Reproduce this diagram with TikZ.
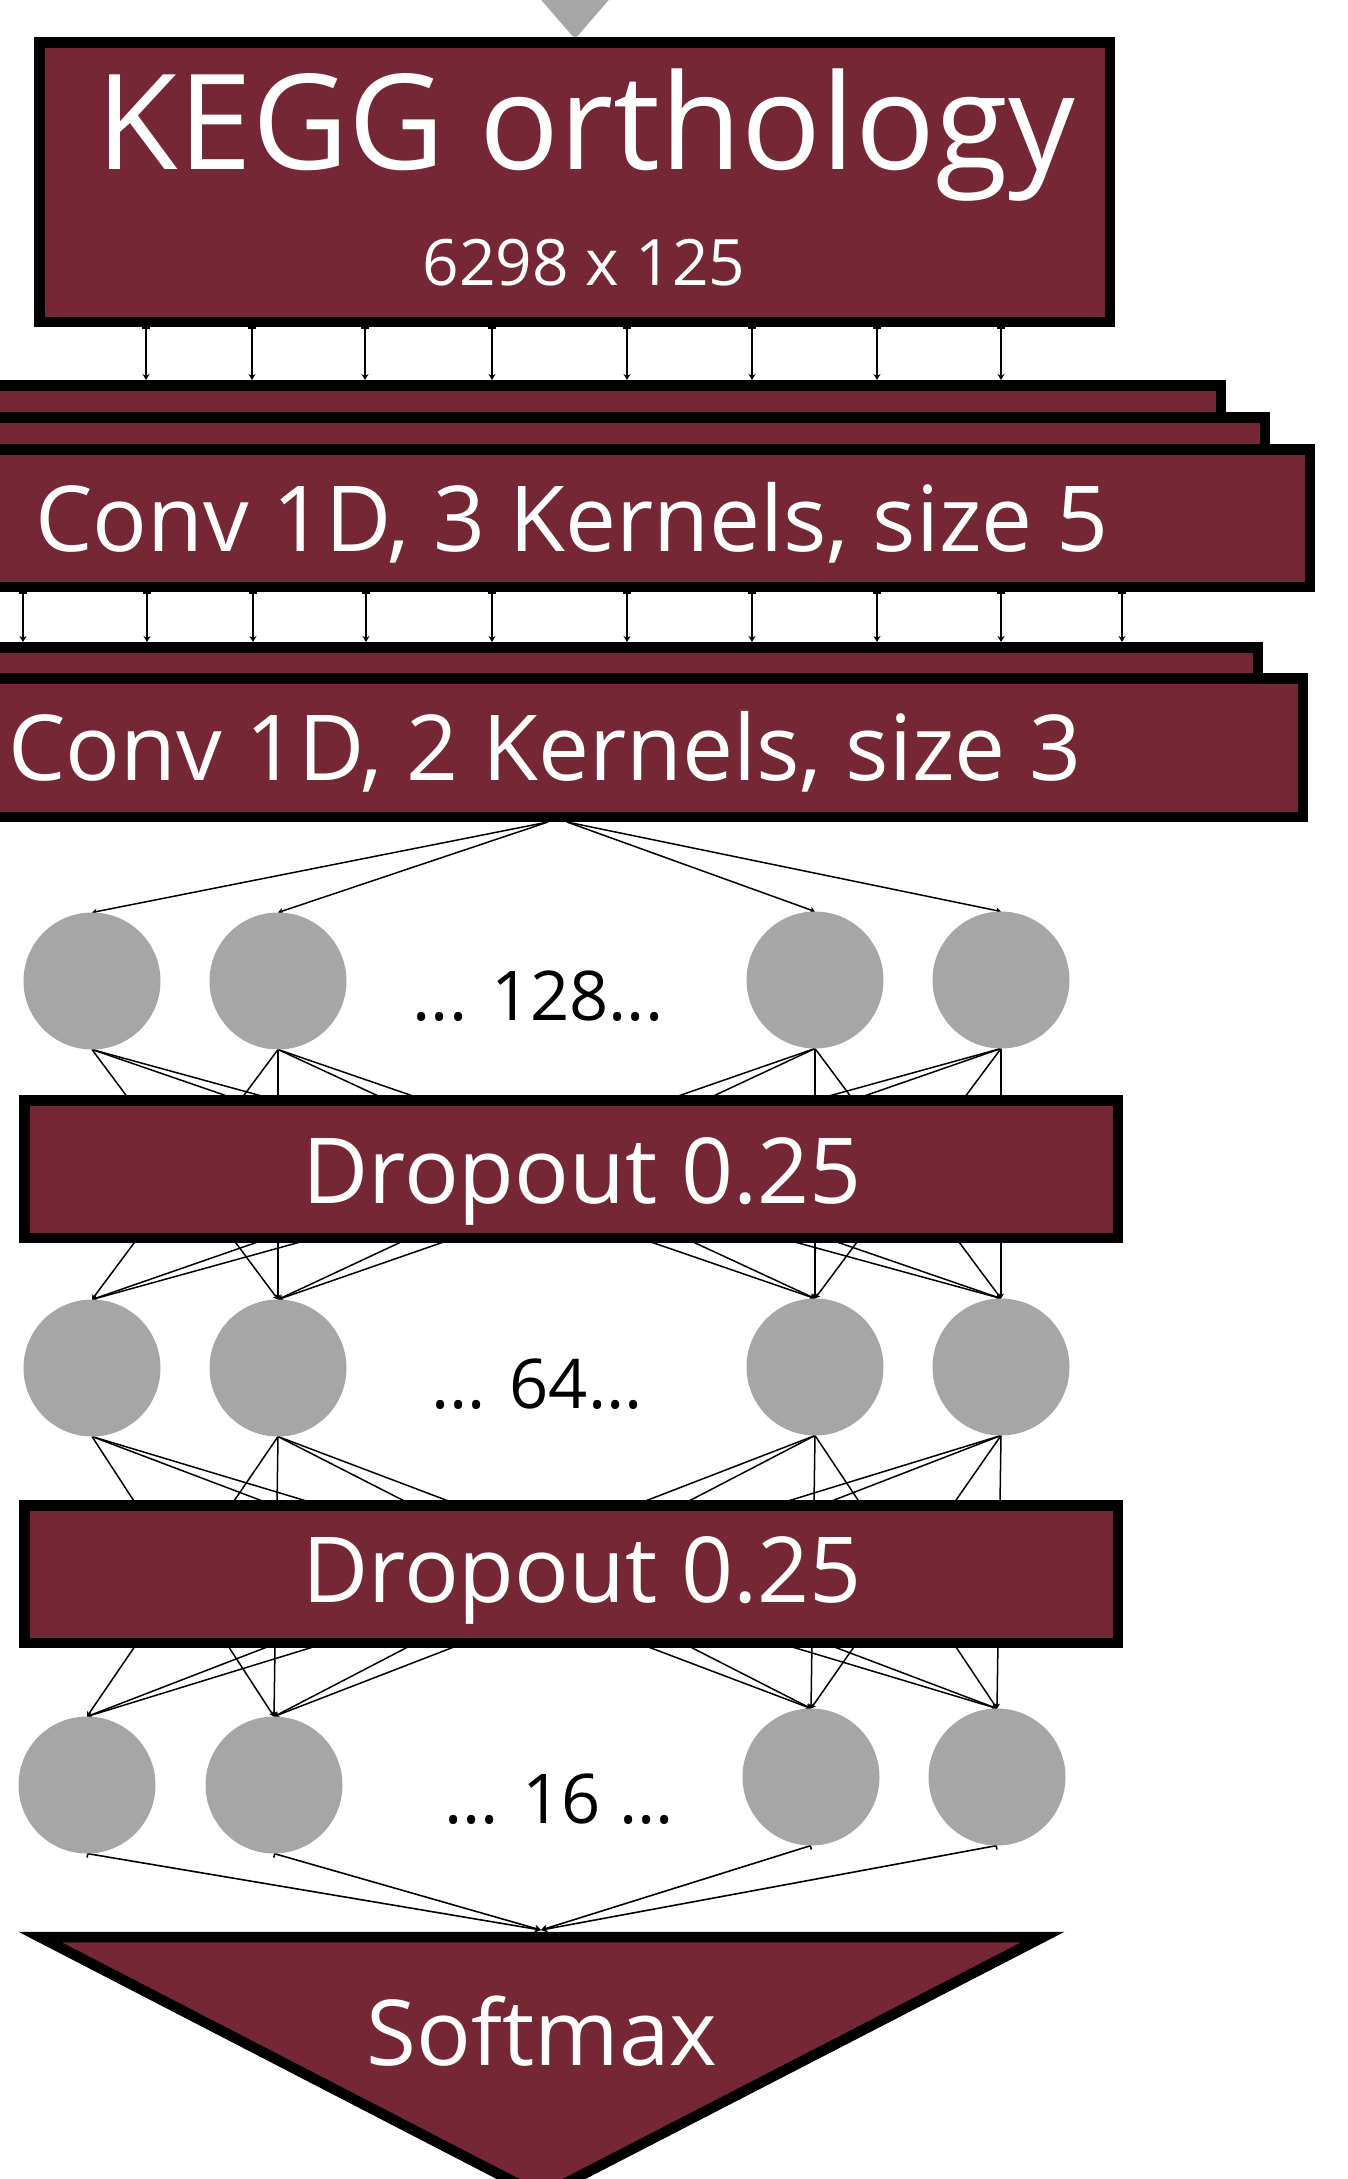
\documentclass[tikz,border=0pt]{standalone}
\usepackage{fontspec}
\setmainfont{Open Sans}
\usetikzlibrary{arrows.meta}
\definecolor{boxred}{RGB}{117,39,53}
\definecolor{unitgrey}{RGB}{166,166,166}
\pgfdeclarelayer{bg}
\pgfsetlayers{bg,main}
\tikzset{
  layerbox/.style={rectangle, draw=black, fill=boxred, line width=5.25pt,
    outer sep=2.625pt, inner sep=0pt},
  unit/.style={circle, fill=unitgrey, minimum size=68.5pt, inner sep=0pt, outer sep=0pt},
  feed/.style={line width=0.8pt,
    {Bar[width=4pt,line width=0.8pt]}-{Stealth[length=3pt,width=3.5pt]}},
  dense/.style={line width=0.75pt, -{Stealth[length=2.5pt,width=3pt]}},
  boxtext/.style={text=white, anchor=base, inner sep=0pt,
    font=\fontsize{45.5pt}{50pt}\selectfont},
  count/.style={text=black, anchor=base, inner sep=0pt,
    font=\fontsize{34.3pt}{40pt}\selectfont},
}
\begin{document}
\begin{tikzpicture}[x=0.5pt,y=-0.5pt]
\useasboundingbox (0,0) rectangle (1348,2179);

% incoming shape at the top
\fill[unitgrey, rounded corners=2pt] (524,-20) -- (626,-20) -- (575,39) -- cycle;

% input block
\node[layerbox, minimum width=535.25pt, minimum height=139.75pt] (kegg) at (574.5,182) {};
\node[text=white, anchor=base, inner sep=0pt, font=\fontsize{66.3pt}{70pt}\selectfont]
  (keggtitle) at (586,169) {KEGG orthology};
\node[text=white, anchor=base, inner sep=0pt, font=\fontsize{32pt}{38pt}\selectfont]
  (keggsize) at (584,285) {6298 x 125};

% first convolution: three stacked kernels
\node[layerbox, minimum width=627.75pt, minimum height=24.75pt] (c3a) at (593,410) {};
\node[layerbox, minimum width=649.75pt, minimum height=23.75pt] (c3b) at (615,441) {};
\node[layerbox, minimum width=672.25pt, minimum height=68.75pt] (c3c) at (637.5,518) {};
\node[boxtext] (c3label) at (572,551) {Conv 1D, 3 Kernels, size 5};

% second convolution: two stacked kernels
\node[layerbox, minimum width=646.25pt, minimum height=23.75pt] (c2a) at (611.5,671) {};
\node[layerbox, minimum width=668.75pt, minimum height=69.25pt] (c2b) at (634,747.5) {};
\node[boxtext] (c2label) at (545,780) {Conv 1D, 2 Kernels, size 3};

% dense layer with 128 units
\node[unit] (a1) at (92,981) {};
\node[unit] (a2) at (278,981) {};
\node[unit] (a3) at (815,980) {};
\node[unit] (a4) at (1001,980) {};
\node[count] (acount) at (538,1020) {... 128...};

\node[layerbox, minimum width=546.75pt, minimum height=68.75pt] (drop1) at (571,1169) {};
\node[boxtext] (drop1label) at (582,1203) {Dropout 0.25};

% dense layer with 64 units
\node[unit] (b1) at (92,1368) {};
\node[unit] (b2) at (278,1368) {};
\node[unit] (b3) at (815,1367) {};
\node[unit] (b4) at (1001,1367) {};
\node[count] (bcount) at (537,1408) {... 64...};

\node[layerbox, minimum width=546.75pt, minimum height=68.75pt] (drop2) at (571,1574) {};
\node[boxtext] (drop2label) at (582,1602) {Dropout 0.25};

% dense layer with 16 units
\node[unit] (d1) at (87,1785) {};
\node[unit] (d2) at (274,1785) {};
\node[unit] (d3) at (811,1777) {};
\node[unit] (d4) at (997,1777) {};
\node[count] (dcount) at (559,1823) {... 16 ...};

% output layer
\draw[fill=boxred, line width=5.25pt, line join=miter] (40,1937) -- (1043,1937) -- (541,2196) -- cycle;
\coordinate (smtop) at (541,1930);
\node[boxtext] (smlabel) at (542,2065) {Softmax};

% column positions of the convolution arrows
\foreach \n/\x in {1/146,2/252,3/365,4/492,5/627,6/752,7/877,8/1001}
  \coordinate (k\n) at (\x,0);
\foreach \n/\x in {0/23,1/147,2/253,3/366,4/492,5/627,6/752,7/877,8/1001,9/1122}
  \coordinate (m\n) at (\x,0);
\coordinate (c2left) at (548,0);
\coordinate (c2right) at (567,0);

\begin{pgfonlayer}{bg}
  \foreach \n in {1,...,8}
    \draw[feed] (kegg.south -| k\n) -- (c3a.north -| k\n);
  \foreach \n in {0,...,9}
    \draw[feed] (c3c.south -| m\n) -- (c2a.north -| m\n);
  \draw[dense] (c2b.south -| c2left) -- (a1.north);
  \draw[dense] (c2b.south -| c2left) -- (a2.north);
  \draw[dense] (c2b.south -| c2right) -- (a3.north);
  \draw[dense] (c2b.south -| c2right) -- (a4.north);
  \foreach \i in {1,2,3,4}{
    \foreach \j in {1,2,3,4}{
      \ifnum\i\j=11 \else
        \draw[dense] (a\i.south) -- (b\j.north);
        \draw[dense] (b\i.south) -- (d\j.north);
      \fi
    }
  }
  \foreach \i in {1,2,3,4}
    \draw[feed] (d\i.south) -- (smtop);
\end{pgfonlayer}
\end{tikzpicture}
\end{document}
